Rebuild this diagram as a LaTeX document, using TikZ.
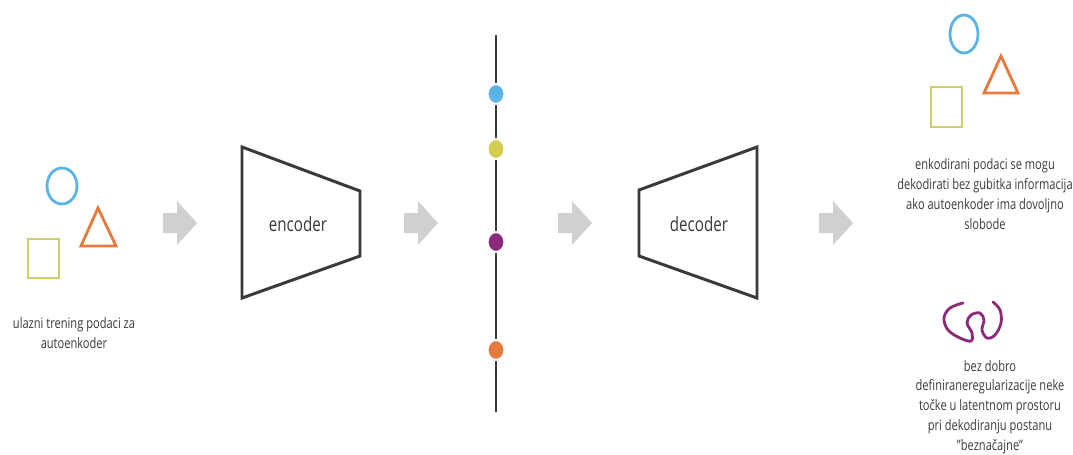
\documentclass[tikz,border=0pt]{standalone}
\usepackage{fontspec}
\setmainfont[FakeStretch=0.77]{Open Sans}
\usepackage{tikz}
\usepackage{xcolor}
\usetikzlibrary{shapes.geometric, positioning}

\definecolor{shapeblue}{HTML}{5AB4E6}
\definecolor{shapeorange}{HTML}{E57A3C}
\definecolor{shapegreen}{HTML}{CDD06A}
\definecolor{dotyellow}{HTML}{D4CC4F}
\definecolor{dotpurple}{HTML}{8A2A78}
\definecolor{arrowgray}{HTML}{D0D0D0}
\definecolor{linegray}{HTML}{3A3A3A}

\tikzset{
    block/.style={draw=linegray, line width=1.7pt, line join=miter},
    outline/.style={line width=1.6pt},
    smalltext/.style={align=center, text=linegray, font=\fontsize{8.2}{11.3}\selectfont},
    bigtext/.style={text=linegray, font=\fontsize{11.2}{13}\selectfont},
    latentdot/.style={ellipse, draw=white, line width=1.2pt, minimum width=0.34cm, minimum height=0.4cm, inner sep=0pt},
    fatarrow/.pic={
        \fill[arrowgray] (-17,-10) -- (-3,-10) -- (-3,-22) -- (17,0) -- (-3,22) -- (-3,10) -- (-17,10) -- cycle;
    }
}

\begin{document}
\begin{tikzpicture}[x=0.02cm, y=-0.02cm]
    \useasboundingbox (0,0) rectangle (1073,454);

    % input data
    \draw[shapeblue, outline] (62,186) ellipse (15 and 18);
    \draw[shapeorange, outline, line join=miter] (98,208) -- (116,246) -- (81,246) -- cycle;
    \draw[shapegreen, outline] (28,239) rectangle (59,278);
    \node[smalltext] (input) at (74,333) {ulazni trening podaci za\\autoenkoder};

    \pic at (180,223) {fatarrow};

    % encoder
    \draw[block] (242,147) -- (360,191) -- (360,256) -- (242,298) -- cycle;
    \node[bigtext] (enc) at (298,224) {encoder};

    \pic at (421,223) {fatarrow};

    % latent space
    \coordinate (ltop) at (496,35);
    \coordinate (lbot) at (496,412);
    \draw[linegray, line width=1.6pt] (ltop) -- (lbot);
    \node[latentdot, fill=shapeblue] (z1) at (496,94) {};
    \node[latentdot, fill=dotyellow] (z2) at (496,149) {};
    \node[latentdot, fill=dotpurple] (z3) at (496,242) {};
    \node[latentdot, fill=shapeorange] (z4) at (496,350) {};

    \pic at (575,223) {fatarrow};

    % decoder
    \draw[block] (639,190) -- (757,147) -- (757,298) -- (639,256) -- cycle;
    \node[bigtext] (dec) at (699,224) {decoder};

    \pic at (836,223) {fatarrow};

    % output data
    \draw[shapeblue, outline] (964,34) ellipse (14 and 19);
    \draw[shapeorange, outline, line join=miter] (1001,56) -- (1018,93) -- (984,93) -- cycle;
    \draw[shapegreen, outline] (931,87) rectangle (962,127);
    \node[smalltext] (good) at (985,194) {enkodirani podaci se mogu\\dekodirati bez gubitka informacija\\ako autoenkoder ima dovoljno\\slobode};

    \draw[dotpurple, line width=1.6pt, line cap=round] plot[smooth, tension=0.6] coordinates {
        (963,303) (950,308) (944,318) (948,330) (960,338) (971,341) (972,333)
        (967,323) (971,315) (980,313) (984,320) (982,330) (987,338) (995,335)
        (1001,323) (1000,310) (993,302)};
    \node[smalltext] (bad) at (990,407) {bez dobro\\definiraneregularizacije neke\\točke u latentnom prostoru\\pri dekodiranju postanu\\"beznačajne"};
\end{tikzpicture}
\end{document}
